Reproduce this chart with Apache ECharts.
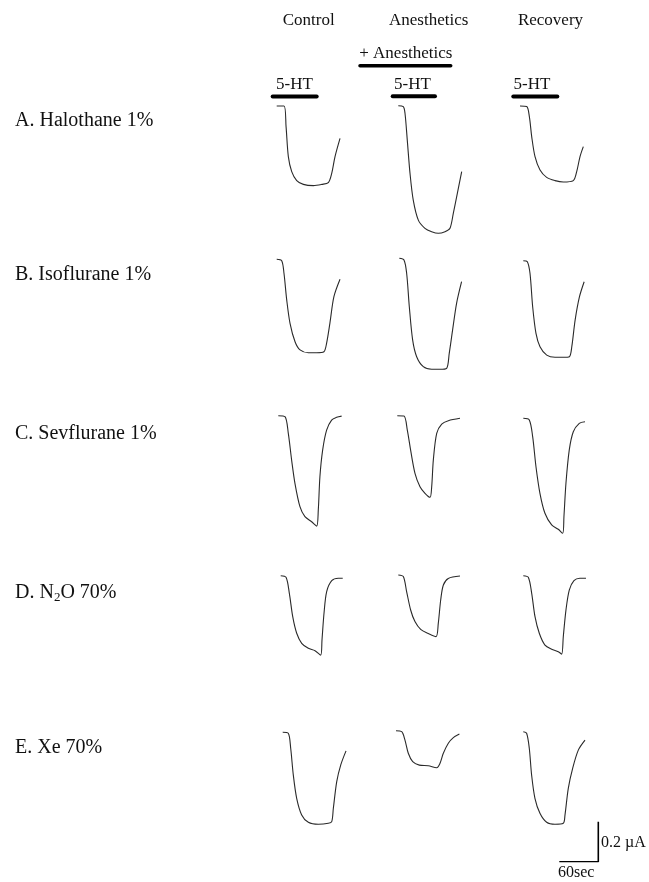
<!DOCTYPE html>
<html>
<head>
<meta charset="utf-8">
<script src="https://cdn.jsdelivr.net/npm/echarts@6/dist/echarts.min.js"></script>
<style>html,body{margin:0;padding:0;background:#fff}#c{width:649px;height:882px}</style>
</head>
<body>
<div id="c"></div>
<script>
// ---- data: time (s), current (µA) ----
const columns = ['Control', 'Anesthetics', 'Recovery'];
const rowLabels = ['A. Halothane 1%', 'B. Isoflurane 1%', 'C. Sevflurane 1%', 'D. N2O 70%', 'E. Xe 70%'];

const halothaneControl = [[0,0],[11.2,0],[14.4,-0.103],[17.9,-0.253],[23.1,-0.328],[30.8,-0.373],[41,-0.392],[56.4,-0.398],[69.3,-0.392],[79.4,-0.383],[84.6,-0.337],[89.7,-0.253],[97.4,-0.162]];
const halothaneAnesth = [[0,0],[7.7,-0.005],[10.3,-0.038],[13.8,-0.172],[18,-0.338],[23,-0.472],[30.8,-0.572],[41,-0.613],[51.3,-0.63],[61.5,-0.638],[71.8,-0.63],[79.5,-0.613],[84.6,-0.538],[90.8,-0.438],[97.5,-0.33]];
const halothaneRecovery = [[0,0],[10.3,-0.003],[14.4,-0.053],[18,-0.153],[23.1,-0.253],[30.8,-0.32],[41,-0.357],[53.8,-0.373],[66.6,-0.38],[82,-0.373],[87.2,-0.328],[92.3,-0.253],[97.4,-0.203]];

const isofluraneControl = [[0,0],[7.7,-0.007],[11.2,-0.07],[15.4,-0.203],[20.5,-0.32],[28.2,-0.412],[35.9,-0.453],[48.6,-0.467],[61.4,-0.467],[72.6,-0.462],[76.7,-0.42],[81.8,-0.32],[88,-0.187],[97.4,-0.1]];
const isofluraneAnesth = [[0,0],[7.2,-0.008],[11.3,-0.075],[15.4,-0.242],[20.5,-0.408],[26.7,-0.492],[36.9,-0.542],[49.7,-0.555],[62.5,-0.555],[72.8,-0.55],[76.8,-0.475],[82,-0.358],[88.1,-0.225],[95.8,-0.117]];
const isofluraneRecovery = [[0,0],[6.2,-0.005],[10.3,-0.063],[14.4,-0.23],[19.5,-0.363],[25.7,-0.43],[36,-0.472],[48.8,-0.483],[61.6,-0.483],[70.9,-0.48],[74.6,-0.43],[79.7,-0.297],[86.4,-0.18],[93.6,-0.105]];

const sevofluraneControl = [[0,0],[10.3,-0.005],[15.4,-0.088],[20.5,-0.222],[25.6,-0.338],[33.3,-0.455],[41,-0.505],[51.3,-0.53],[59,-0.552],[61.5,-0.472],[64,-0.305],[68.2,-0.172],[74.3,-0.072],[82,-0.022],[89.7,-0.008],[97.4,-0.002]];
const sevofluraneAnesth = [[0,0],[10.3,-0.002],[15.4,-0.072],[20.5,-0.172],[27.2,-0.288],[34.9,-0.355],[42.6,-0.388],[50.3,-0.408],[52.9,-0.355],[55.4,-0.222],[60.6,-0.088],[68.3,-0.042],[78.5,-0.025],[96.4,-0.013]];
const sevofluraneRecovery = [[0,0],[9.2,-0.008],[14.4,-0.092],[19.5,-0.242],[25.6,-0.375],[33.3,-0.475],[43.6,-0.533],[53.8,-0.555],[60.6,-0.575],[62.5,-0.492],[65.6,-0.325],[70.7,-0.158],[76.9,-0.067],[86.1,-0.025],[94.9,-0.017]];

const n2oControl = [[0,0],[8.2,-0.008],[13.3,-0.088],[18.5,-0.205],[24.6,-0.288],[32.3,-0.338],[42.5,-0.363],[52.8,-0.375],[61.5,-0.397],[63.5,-0.322],[66.6,-0.188],[70.7,-0.08],[78.5,-0.025],[88.6,-0.013],[95.4,-0.013]];
const n2oAnesth = [[0,0],[7.7,-0.008],[12.8,-0.083],[19,-0.175],[25.6,-0.233],[34.4,-0.272],[46.1,-0.292],[58,-0.308],[61.5,-0.242],[65.2,-0.125],[69.3,-0.05],[76.9,-0.017],[94.9,-0.005]];
const n2oRecovery = [[0,0],[7.7,-0.008],[12.9,-0.088],[18,-0.205],[24.6,-0.288],[33.3,-0.347],[43.6,-0.368],[53.8,-0.38],[59,-0.392],[61.5,-0.305],[65.6,-0.172],[70.7,-0.072],[77.9,-0.025],[87.1,-0.013],[96.4,-0.013]];

const xeControl = [[0,0],[8.6,-0.005],[12.3,-0.08],[16.3,-0.213],[21.5,-0.33],[29.2,-0.413],[39.4,-0.45],[54.8,-0.46],[70.2,-0.455],[75.4,-0.447],[77.9,-0.38],[83.1,-0.247],[89.3,-0.163],[97.4,-0.093]];
const xeAnesth = [[0,0],[8.8,-0.005],[13.8,-0.047],[18.9,-0.113],[25.7,-0.155],[35.9,-0.172],[49.7,-0.175],[62.5,-0.185],[67.7,-0.163],[72.8,-0.113],[80.5,-0.063],[88.2,-0.035],[97.5,-0.017]];
const xeRecovery = [[0,0],[5.1,-0.008],[9.2,-0.083],[12.8,-0.217],[17.9,-0.333],[25.6,-0.408],[35.9,-0.453],[48.7,-0.463],[61.5,-0.458],[64.1,-0.417],[69.2,-0.283],[75.9,-0.183],[84.6,-0.092],[94.9,-0.042]];

// application bars (time s, level)
const htBarControl = [[-6.2,0.047],[61.5,0.047]];
const htBarAnesth = [[-8.6,0.047],[56.4,0.047]];
const htBarRecovery = [[-10.3,0.047],[57.4,0.047]];
const anesthBar = [[-58.9,0.2],[80.6,0.2]];

// scale bar: 60 s, 0.2 µA
const scaleBarT = [-60, 0, 0];
const scaleBarI = [0, 0, 0.2];

const traces = [
  [halothaneControl, halothaneAnesth, halothaneRecovery],
  [isofluraneControl, isofluraneAnesth, isofluraneRecovery],
  [sevofluraneControl, sevofluraneAnesth, sevofluraneRecovery],
  [n2oControl, n2oAnesth, n2oRecovery],
  [xeControl, xeAnesth, xeRecovery]
];

// ---- layout (pixel origins of each trace) ----
const origins = [
  [[276.7,106],[398.3,105.7],[520,106]],
  [[276.7,259.3],[399.3,258.3],[523.3,260.7]],
  [[278.3,415.7],[397.3,415.7],[523.3,418.3]],
  [[280.7,575.7],[398.3,575],[523.3,575.7]],
  [[282.7,732.3],[396,730.7],[523.3,731.7]]
];
const SX = 1.538;  // s per px
const SY = 0.005;  // µA per px
const XMIN = -60, XMAX = 110, YMIN = -0.68, YMAX = 0.25;

const grid = [], xAxis = [], yAxis = [], series = [];
let gi = 0;
traces.forEach((row, r) => {
  row.forEach((tr, c) => {
    const [ox, oy] = origins[r][c];
    grid.push({left: ox + XMIN / SX, top: oy - YMAX / SY, width: (XMAX - XMIN) / SX, height: (YMAX - YMIN) / SY});
    xAxis.push({type:'value', gridIndex: gi, min: XMIN, max: XMAX, show:false});
    yAxis.push({type:'value', gridIndex: gi, min: YMIN, max: YMAX, show:false});
    series.push({type:'line', xAxisIndex: gi, yAxisIndex: gi, data: tr, showSymbol:false, smooth:0.3,
      lineStyle:{color:'#2a2a2a', width:1.1}, silent:true, animation:false});
    if (r === 0) {
      const bar = [htBarControl, htBarAnesth, htBarRecovery][c];
      series.push({type:'line', xAxisIndex: gi, yAxisIndex: gi, data: bar, showSymbol:false,
        lineStyle:{color:'#000', width:4, cap:'round'}, silent:true, animation:false});
      if (c === 1) {
        series.push({type:'line', xAxisIndex: gi, yAxisIndex: gi, data: anesthBar, showSymbol:false,
          lineStyle:{color:'#000', width:3.5, cap:'round'}, silent:true, animation:false});
      }
    }
    gi++;
  });
});
// scale bar grid
grid.push({left: 598.3 - 60 / SX, top: 861.7 - 0.2 / SY, width: 60 / SX, height: 0.2 / SY});
xAxis.push({type:'value', gridIndex: gi, min:-60, max:0, show:false});
yAxis.push({type:'value', gridIndex: gi, min:0, max:0.2, show:false});
series.push({type:'line', xAxisIndex: gi, yAxisIndex: gi, data: scaleBarT.map((t,i)=>[t, scaleBarI[i]]), showSymbol:false,
  lineStyle:{color:'#000', width:1.6}, silent:true, animation:false});

const FF = '"Liberation Serif", "DejaVu Serif", serif';
const txt = (text, x, y, size, align) => ({type:'text', x, y, style:{text, font: size + 'px ' + FF, fill:'#111', textAlign: align || 'left', textVerticalAlign:'middle'}});
const graphic = [
  txt(columns[0], 308.7, 21, 17, 'center'),
  txt(columns[1], 428.7, 21, 17, 'center'),
  txt(columns[2], 550.5, 21, 17, 'center'),
  txt('+ Anesthetics', 405.8, 54, 17, 'center'),
  txt('5-HT', 294.5, 85, 17, 'center'),
  txt('5-HT', 412.5, 85, 17, 'center'),
  txt('5-HT', 532, 85, 17, 'center'),
  txt(rowLabels[0], 15, 121, 20),
  txt(rowLabels[1], 15, 275, 20),
  txt(rowLabels[2], 15, 433.5, 20),
  {type:'text', x:15, y:592.5, style:{
    text:'{n|D. N}{s|2}{n|O 70%}', font: '20px ' + FF, fill:'#111', textVerticalAlign:'middle',
    rich:{n:{fontFamily:'Liberation Serif', fontSize:20, fill:'#111'}, s:{fontFamily:'Liberation Serif', fontSize:13, fill:'#111', padding:[10,0,0,0]}}
  }},
  txt(rowLabels[4], 15, 748, 20),
  txt('0.2 \u00b5A', 601, 843, 16),
  txt('60sec', 558, 873, 16)
];

const chart = echarts.init(document.getElementById('c'), null, {renderer:'canvas'});
chart.setOption({backgroundColor:'#fff', animation:false, grid, xAxis, yAxis, series, graphic});
</script>
</body>
</html>
